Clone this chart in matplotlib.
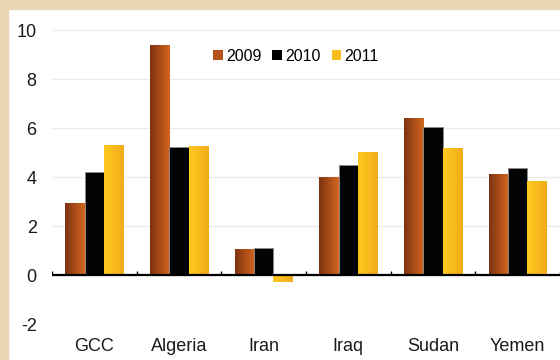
import numpy as np
import matplotlib.pyplot as plt
from matplotlib.colors import LinearSegmentedColormap
from matplotlib.patches import Patch, Rectangle

plt.rcParams['font.family'] = ['Liberation Sans', 'DejaVu Sans']

categories = ["GCC", "Algeria", "Iran", "Iraq", "Sudan", "Yemen"]
years = ["2009", "2010", "2011"]
v2009 = [2.9, 9.35, 1.05, 4.0, 6.4, 4.1]
v2010 = [4.2, 5.25, 1.1, 4.5, 6.05, 4.4]
v2011 = [5.3, 5.25, -0.27, 5.0, 5.15, 3.8]
y_ticks = [-2, 0, 2, 4, 6, 8, 10]

grads = [("#7e3410", "#d4651f"), None, ("#ffca1f", "#f0ac1a")]
solid = ["#b4521a", "#000000", "#fbbd1c"]


def gradient_bar(ax, x0, w, h, c0, c1):
    cmap = LinearSegmentedColormap.from_list("g", [c0, c1])
    g = np.linspace(0, 1, 64).reshape(1, -1)
    y0, y1 = min(0, h), max(0, h)
    ax.imshow(g, extent=[x0, x0 + w, y0, y1], cmap=cmap, aspect='auto',
              origin='lower', zorder=3, interpolation='bilinear')


def main():
    fig = plt.figure(figsize=(5.6, 3.6), dpi=100)
    fig.patches.append(Rectangle((0, 1 - 9 / 360), 1, 9 / 360, transform=fig.transFigure,
                                 color="#e8d6b5", zorder=0))
    fig.patches.append(Rectangle((0, 0), 8 / 560, 1, transform=fig.transFigure,
                                 color="#e8d6b5", zorder=0))
    ax = fig.add_axes([52 / 560, 1 - 324.3 / 360, 1 - 52 / 560, (324.3 - 30.3) / 360])

    w = 0.228
    x = np.arange(len(categories))
    series = [v2009, v2010, v2011]
    for k, vals in enumerate(series):
        for i, v in enumerate(vals):
            xc = x[i] + (k - 1) * w
            if grads[k] is None:
                ax.bar(xc, v, w, facecolor="#020304", edgecolor="#8a8a8a",
                       linewidth=0.7, zorder=3)
            else:
                gradient_bar(ax, xc - w / 2, w, v, *grads[k])

    ax.set_xlim(-0.5, len(categories) - 0.5)
    ax.set_ylim(-2, 10)
    ax.set_yticks(y_ticks)
    ax.set_yticklabels([str(t) for t in y_ticks])
    ax.set_xticks(x)
    ax.set_xticklabels(categories)
    ax.tick_params(axis='y', length=0, pad=11, labelsize=13, colors="#1a1a1a")
    ax.tick_params(axis='x', length=0, pad=10, labelsize=13, colors="#1a1a1a")
    for s in ax.spines.values():
        s.set_visible(False)
    ax.grid(axis='y', color="#ebebeb", linewidth=1, zorder=0)
    ax.set_axisbelow(True)

    ax.axhline(0, color="black", linewidth=1.6, zorder=5)
    ax.vlines(np.arange(len(categories) + 1) - 0.5, 0, 0.17, color="black",
              linewidth=1.0, zorder=5)

    handles = [Patch(facecolor=solid[k], edgecolor="none") for k in range(3)]
    leg = ax.legend(handles, years, loc='center', bbox_to_anchor=(0.48, 0.912), ncol=3,
                    frameon=False, fontsize=11.5, handlelength=0.6, handleheight=0.6,
                    handletextpad=0.2, columnspacing=0.7, borderaxespad=0)
    leg.set_zorder(10)

    fig.savefig("out.png", dpi=100)


if __name__ == '__main__':
    main()
